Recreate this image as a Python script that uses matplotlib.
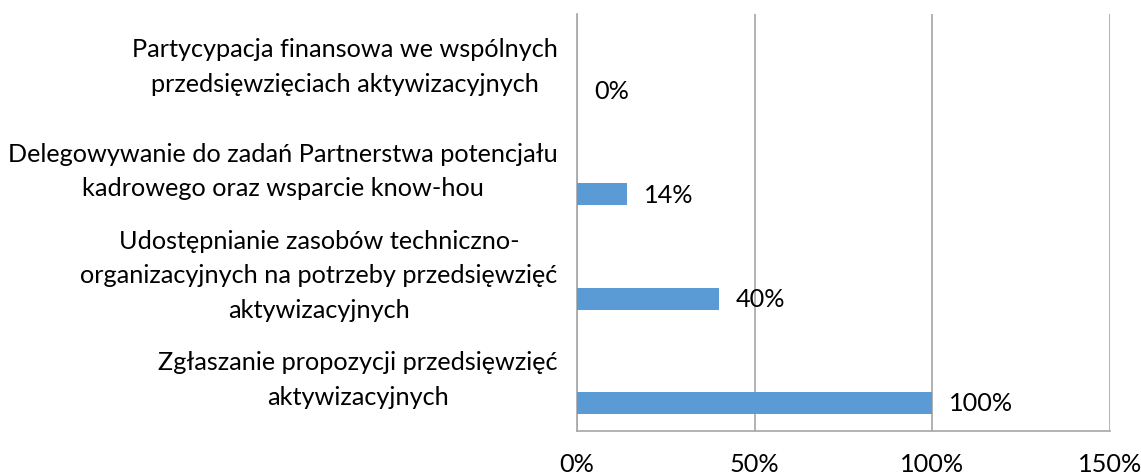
import matplotlib
matplotlib.use("Agg")
import matplotlib.pyplot as plt

# data
categories = [
    "Partycypacja finansowa we wspólnych\nprzedsięwzięciach aktywizacyjnych",
    "Delegowywanie do zadań Partnerstwa potencjału\nkadrowego oraz wsparcie know-hou",
    "Udostępnianie zasobów techniczno-\norganizacyjnych na potrzeby przedsięwzięć\naktywizacyjnych",
    "Zgłaszanie propozycji przedsięwzięć\naktywizacyjnych",
]
values = [0, 14, 40, 100]
x_ticks = [0, 50, 100, 150]

plt.rcParams['font.family'] = ['Lato', 'DejaVu Sans']
fs = 18.2
grid_col = '#A6A6A6'
bar_col = '#5B9BD5'

W, H = 1141, 477
fig = plt.figure(figsize=(W / 100, H / 100), dpi=100)
ax = fig.add_axes([577 / W, (H - 432) / H, (1110 - 577) / W, (432 - 15) / H])

ypos = list(range(len(categories)))
# bars sit in the lower part of each category band
bar_y = [y + 0.23 for y in ypos]
ax.barh(bar_y, values, height=0.21, color=bar_col, zorder=3)

for y, v in zip(bar_y, values):
    ax.annotate(f"{v}%", xy=(v, y), xytext=(17, 0), textcoords='offset pixels',
                ha='left', va='center', fontsize=fs, color='black', zorder=4)

ax.set_xlim(0, 150)
ax.set_ylim(len(categories) - 0.5, -0.5)
ax.set_xticks(x_ticks)
ax.set_xticklabels([f"{t}%" for t in x_ticks], fontsize=fs)
ax.set_yticks(ypos)
ax.set_yticklabels(categories, fontsize=fs, va='center')
for t in ax.get_yticklabels():
    t.set_multialignment('center')
    t.set_linespacing(1.6)

ax.tick_params(axis='x', length=0, pad=15)
ax.tick_params(axis='y', length=0, pad=14)
ax.grid(axis='x', color=grid_col, linewidth=1.2, zorder=0)
for side in ['top', 'right']:
    ax.spines[side].set_visible(False)
ax.spines['left'].set_color(grid_col)
ax.spines['bottom'].set_color(grid_col)
ax.spines['left'].set_linewidth(1.2)
ax.spines['bottom'].set_linewidth(1.2)

fig.savefig("out.png", dpi=100)
